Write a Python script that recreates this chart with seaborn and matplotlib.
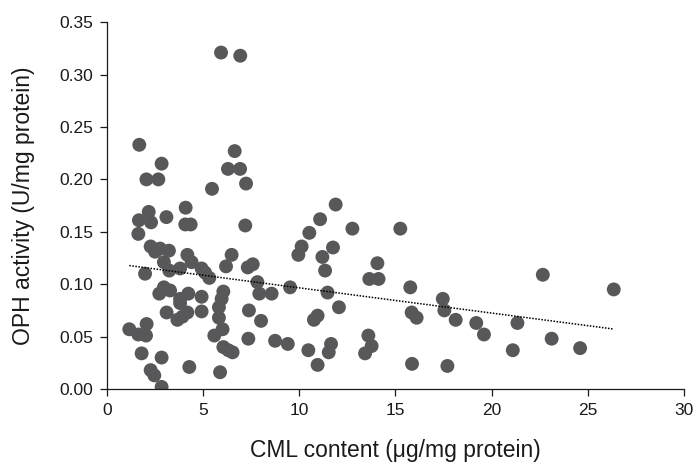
import matplotlib
matplotlib.use("Agg")
import matplotlib.pyplot as plt
import seaborn as sns
import numpy as np
import pandas as pd

cml_content = [
    1.68, 2.84, 2.05, 2.67, 6.64, 6.29, 6.92, 7.23, 5.46, 5.93, 6.93,
    2.17, 1.66, 2.29, 3.09, 4.09, 4.07, 4.35, 7.19, 1.63, 2.27, 2.50,
    2.76, 3.22, 2.96, 3.24, 3.80, 1.98, 4.18, 4.40, 4.92, 5.10, 5.32,
    6.48, 6.19, 7.58, 7.32, 7.82, 7.92, 2.96, 3.28, 2.72, 3.80, 4.23,
    4.92, 6.05, 5.96, 3.80, 8.56, 3.10, 3.66, 3.92, 4.18, 4.92, 5.82,
    5.82, 6.01, 5.58, 7.38, 8.01, 1.16, 1.63, 2.03, 2.06, 7.35, 8.74,
    1.80, 2.84, 6.05, 6.31, 6.53, 2.27, 2.46, 4.28, 5.88, 2.84,
    11.89, 11.08, 12.76, 15.25, 10.52, 10.12, 9.95, 11.75, 11.20, 11.34,
    14.06, 13.64, 14.12, 15.77, 9.52, 11.47, 12.06, 10.95, 10.76, 15.84,
    16.10, 9.40, 10.47, 11.65, 11.53, 13.59, 13.76, 13.42, 10.95, 15.86,
    22.66, 26.35, 17.46, 17.54, 18.13, 19.20, 19.60, 21.34, 23.12, 21.10,
    24.60, 17.70,
]
oph_activity = [
    0.233, 0.215, 0.200, 0.200, 0.227, 0.210, 0.210, 0.196, 0.191, 0.321, 0.318,
    0.169, 0.161, 0.159, 0.164, 0.173, 0.157, 0.157, 0.156, 0.148, 0.136, 0.131,
    0.134, 0.132, 0.121, 0.113, 0.115, 0.110, 0.128, 0.121, 0.115, 0.111, 0.106,
    0.128, 0.117, 0.119, 0.116, 0.102, 0.091, 0.097, 0.094, 0.091, 0.086, 0.091,
    0.088, 0.093, 0.086, 0.082, 0.091, 0.073, 0.066, 0.069, 0.073, 0.074, 0.078,
    0.068, 0.057, 0.051, 0.075, 0.065, 0.057, 0.052, 0.051, 0.062, 0.048, 0.046,
    0.034, 0.030, 0.040, 0.037, 0.035, 0.018, 0.013, 0.021, 0.016, 0.002,
    0.176, 0.162, 0.153, 0.153, 0.149, 0.136, 0.128, 0.135, 0.126, 0.113,
    0.120, 0.105, 0.105, 0.097, 0.097, 0.092, 0.078, 0.070, 0.066, 0.073,
    0.068, 0.043, 0.037, 0.043, 0.035, 0.051, 0.041, 0.034, 0.023, 0.024,
    0.109, 0.095, 0.086, 0.075, 0.066, 0.063, 0.052, 0.063, 0.048, 0.037,
    0.039, 0.022,
]
x_ticks = [0, 5, 10, 15, 20, 25, 30]
y_ticks = [0.00, 0.05, 0.10, 0.15, 0.20, 0.25, 0.30, 0.35]
x_label = "CML content (μg/mg protein)"
y_label = "OPH activity (U/mg protein)"

df = pd.DataFrame({"cml": cml_content, "oph": oph_activity})

sns.set_theme(style="ticks")
plt.rcParams["font.family"] = ["Liberation Sans", "DejaVu Sans"]

fig = plt.figure(figsize=(6.97, 4.62), dpi=100)
ax = fig.add_axes([0.1535, 0.158, 0.8278, 0.794])

sns.scatterplot(data=df, x="cml", y="oph", ax=ax, s=100, color="#58585a",
                edgecolor="none", linewidth=0, zorder=2)
sns.regplot(data=df, x="cml", y="oph", ax=ax, scatter=False, ci=None,
            truncate=True,
            line_kws={"color": "black", "linestyle": (0, (1, 1)), "linewidth": 1.1, "zorder": 3})

ax.set_xlim(0, 30)
ax.set_ylim(0, 0.35)
ax.set_xticks(x_ticks)
ax.set_xticklabels([str(t) for t in x_ticks])
ax.set_yticks(y_ticks)
ax.set_yticklabels([f"{t:.2f}" for t in y_ticks])
ax.set_xlabel(x_label, fontsize=16.5, color="#1a1a1a", labelpad=15)
ax.set_ylabel(y_label, fontsize=16.5, color="#1a1a1a", labelpad=17)
ax.tick_params(axis="both", labelsize=12.5, colors="#1a1a1a", length=5, width=0.9,
               direction="out", pad=5)
for side in ["top", "right"]:
    ax.spines[side].set_visible(False)
for side in ["left", "bottom"]:
    ax.spines[side].set_color("#1a1a1a")
    ax.spines[side].set_linewidth(0.9)

fig.savefig("out.png", dpi=100)
